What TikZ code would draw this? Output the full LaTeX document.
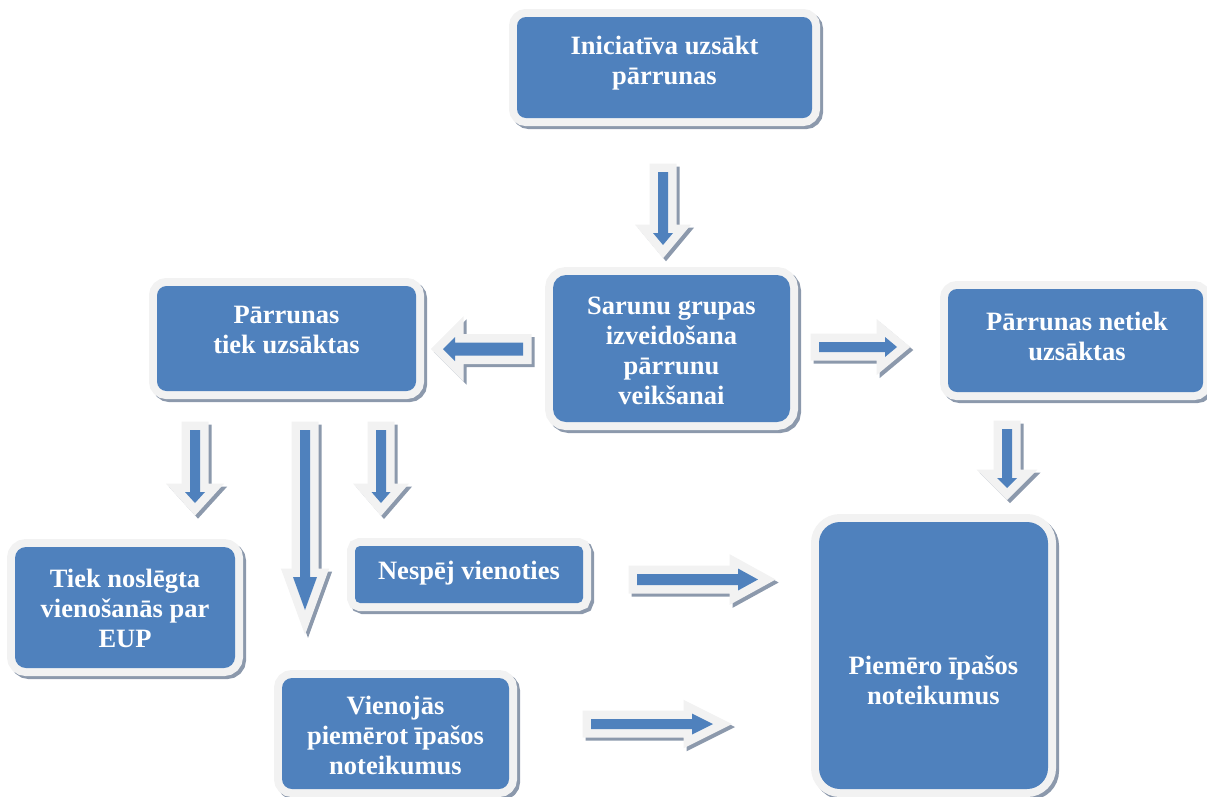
\documentclass[tikz,border=0pt]{standalone}
\usepackage{fontspec}
\setmainfont{Liberation Serif}
\usetikzlibrary{calc}
\definecolor{boxblue}{RGB}{79,129,189}
\definecolor{rimc}{RGB}{242,242,242}
\definecolor{shadc}{RGB}{140,153,172}
\tikzset{
  boxnode/.style={fill=boxblue, rounded corners=#1, inner sep=0pt, outer sep=0pt,
    preaction={fill=shadc, draw=shadc, line width=16pt, transform canvas={shift={(3,3)}}},
    preaction={fill=rimc, draw=rimc, line width=16pt}},
  boxnode/.default=10pt,
  txt/.style={text=white, align=center, inner sep=0pt,
    font=\fontsize{26.5}{30}\selectfont\bfseries},
  arrowbody/.style={fill=boxblue, line join=miter, miter limit=20,
    preaction={fill=shadc, draw=shadc, line width=17pt, line join=miter, miter limit=20, transform canvas={shift={(3,3)}}},
    preaction={fill=rimc, draw=rimc, line width=17pt, line join=miter, miter limit=20}}
}
\newcommand\blockarrow[5]{%
  \coordinate (hb) at ($(#2)!#5pt!(#1)$);
  \path[arrowbody] ($(#1)!#3pt!90:(#2)$) -- ($(hb)!#3pt!90:(#2)$) -- ($(hb)!#4pt!90:(#2)$) -- (#2)
    -- ($(hb)!#4pt!-90:(#2)$) -- ($(hb)!#3pt!-90:(#2)$) -- ($(#1)!#3pt!-90:(#2)$) -- cycle;
}
\begin{document}
\begin{tikzpicture}[x=1pt,y=-1pt]
\useasboundingbox (0,0) rectangle (1207,796);
% boxes
\node[boxnode=9pt, minimum width=295pt, minimum height=101pt] (b1) at (664.5,67.5) {};
\node[boxnode=13pt, minimum width=237pt, minimum height=147pt] (b2) at (671.5,348.5) {};
\node[boxnode=9.5pt, minimum width=259pt, minimum height=105pt] (b3) at (286.5,338.5) {};
\node[boxnode=9pt, minimum width=255pt, minimum height=103pt] (b4) at (1075.5,340.5) {};
\node[boxnode=11pt, minimum width=220pt, minimum height=121pt] (b5) at (125,607.5) {};
\node[boxnode=5pt, minimum width=228pt, minimum height=57pt] (b6) at (469,574.5) {};
\node[boxnode=10pt, minimum width=227pt, minimum height=111pt] (b7) at (395.5,733.5) {};
\node[boxnode=21pt, minimum width=229pt, minimum height=267pt] (b8) at (933.5,655.5) {};
% texts
\node[txt] (t1) at (664.5,63) {Iniciatīva uzsākt\\pārrunas};
\node[txt] (t2) at (671.5,351) {Sarunu grupas\\izveidošana\\pārrunu\\veikšanai};
\node[txt] (t3) at (286.5,330) {Pārrunas\\tiek uzsāktas};
\node[txt] (t4) at (1077,336) {Pārrunas netiek\\uzsāktas};
\node[txt] (t5) at (125,608) {Tiek noslēgta\\vienošanās par\\EUP};
\node[txt] (t6) at (469,573) {Nespēj vienoties};
\node[txt] (t7) at (395.5,735) {Vienojās\\piemērot īpašos\\noteikumus};
\node[txt] (t8) at (933.5,680) {Piemēro īpašos\\noteikumus};
% arrow end points
\coordinate (a1s) at (663,172);   \coordinate (a1e) at (663,245);
\coordinate (a2s) at (523,349);   \coordinate (a2e) at (443,349);
\coordinate (a3s) at (819,347);   \coordinate (a3e) at (897,347);
\coordinate (a4s) at (1007,429);  \coordinate (a4e) at (1007,488);
\coordinate (a5s) at (195,430);   \coordinate (a5e) at (195,503);
\coordinate (a6s) at (305,430);   \coordinate (a6e) at (305,610);
\coordinate (a7s) at (381,430);   \coordinate (a7e) at (381,503);
\coordinate (a8s) at (637,579.5); \coordinate (a8e) at (758,579.5);
\coordinate (a9s) at (591,724);   \coordinate (a9e) at (713,724);
% block arrows
\blockarrow{a1s}{a1e}{5}{10}{12}
\blockarrow{a2s}{a2e}{6.5}{12}{12}
\blockarrow{a3s}{a3e}{5}{10}{12}
\blockarrow{a4s}{a4e}{5}{10}{10}
\blockarrow{a5s}{a5e}{5}{10}{11}
\blockarrow{a6s}{a6e}{5}{12}{33}
\blockarrow{a7s}{a7e}{5}{9.5}{11}
\blockarrow{a8s}{a8e}{5.5}{11}{20}
\blockarrow{a9s}{a9e}{5}{10.5}{21}
\end{tikzpicture}
\end{document}
